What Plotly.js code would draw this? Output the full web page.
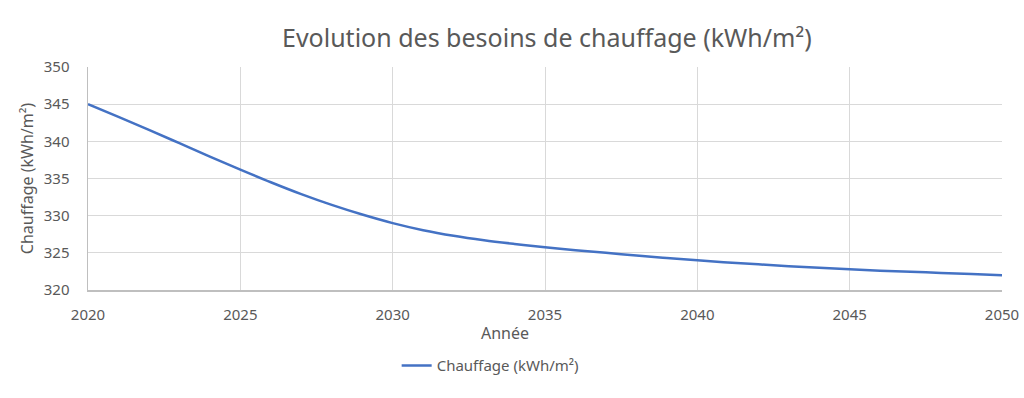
<!DOCTYPE html>
<html>
<head>
<meta charset="utf-8">
<script src="https://cdn.plot.ly/plotly-3.0.1.min.js"></script>
<style>html,body{margin:0;padding:0;background:#fff;}#chart{width:1024px;height:398px;}</style>
</head>
<body>
<div id="chart"></div>
<script>
const years = [2020,2021,2022,2023,2024,2025,2026,2027,2028,2029,2030,2031,2032,2033,2034,2035,2036,2037,2038,2039,2040,2041,2042,2043,2044,2045,2046,2047,2048,2049,2050];
const chauffage = [345.0,343.3,341.55,339.75,337.95,336.2,334.5,332.9,331.45,330.15,329.0,328.05,327.3,326.7,326.2,325.75,325.35,325.0,324.65,324.3,324.0,323.7,323.45,323.2,323.0,322.8,322.6,322.45,322.3,322.15,322.0];
const seriesName = 'Chauffage (kWh/m²)';
const titleText = 'Evolution des besoins de chauffage (kWh/m²)';
const xTitle = 'Année';
const yTitle = 'Chauffage (kWh/m²)';

const font = 'Noto Sans, Open Sans, sans-serif';
const grey = '#595959';

Plotly.newPlot('chart', [{
  x: years, y: chauffage, type: 'scatter', mode: 'lines', name: seriesName,
  line: {color: '#4472c4', width: 2.5, shape: 'spline', smoothing: 1}
}], {
  width: 1024, height: 398,
  margin: {l: 88, r: 22, t: 67, b: 108},
  paper_bgcolor: '#fff', plot_bgcolor: '#fff',
  font: {family: font, color: grey, size: 15},
  title: {text: titleText, font: {family: font, size: 25, color: grey}, x: 0.534, xanchor: 'center', y: 0.905, yanchor: 'middle'},
  xaxis: {
    range: [2020, 2050], tickvals: [2020,2025,2030,2035,2040,2045,2050],
    showgrid: true, gridcolor: '#d9d9d9', gridwidth: 1,
    showline: true, linecolor: '#bfbfbf', linewidth: 1.5, zeroline: false,
    ticks: '', ticklabelstandoff: 10,
    tickfont: {family: font, size: 15, color: grey}
  },
  yaxis: {
    range: [320, 350], tickvals: [320,325,330,335,340,345,350],
    showgrid: true, gridcolor: '#d9d9d9', gridwidth: 1,
    showline: true, linecolor: '#bfbfbf', linewidth: 1.5, zeroline: false,
    ticks: '', ticklabelstandoff: 14,
    tickfont: {family: font, size: 15, color: grey},
    title: {text: yTitle, font: {family: font, size: 16, color: grey}, standoff: 6}
  },
  annotations: [{
    text: xTitle, xref: 'paper', yref: 'paper', x: (505 - 88) / 914, y: -0.195,
    xanchor: 'center', yanchor: 'middle', showarrow: false,
    font: {family: font, size: 16, color: grey}
  }],
  showlegend: true,
  legend: {orientation: 'h', x: 0.44, xanchor: 'center', y: -0.34, yanchor: 'middle',
           font: {family: font, size: 15, color: grey}}
}, {displayModeBar: false, staticPlot: true});
</script>
</body>
</html>
